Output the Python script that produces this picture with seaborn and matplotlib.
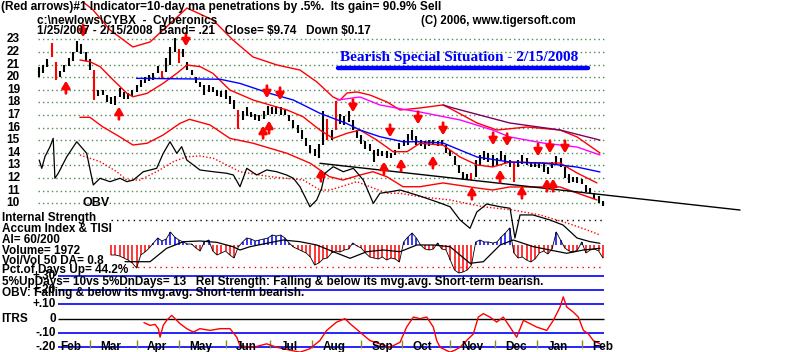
import numpy as np
import matplotlib
matplotlib.use("Agg")
import matplotlib.pyplot as plt
import seaborn as sns
from matplotlib.lines import Line2D

sns.set_style("white")
plt.rcParams['font.family'] = ['Liberation Sans', 'DejaVu Sans']

# ---- data (trading day index 0 = 1/25/2007) ----
bar_day = np.arange(0, 267, 2)
bar_hi = [20.8, 21.0, 21.4, 22.7, 21.2, 20.5, 21.0, 21.5, 22.0, 22.9,
          22.6, 22.0, 21.4, 20.6, 19.0, 19.0, 18.6, 18.4, 18.5, 19.1,
          18.8, 18.7, 19.0, 19.4, 19.8, 20.0, 20.2, 20.3, 20.9, 20.5,
          21.5, 22.4, 23.1, 22.2, 22.2, 21.2, 20.6, 20.0, 19.6, 19.4,
          19.4, 19.2, 19.0, 18.9, 19.0, 18.5, 18.2, 17.4, 17.3, 17.6,
          17.2, 17.1, 17.0, 17.3, 17.7, 17.6, 17.7, 17.6, 17.5, 17.0,
          16.6, 16.2, 15.8, 15.2, 14.6, 14.3, 14.7, 17.3, 16.7, 15.8,
          18.1, 17.1, 16.9, 17.3, 16.6, 15.8, 15.4, 14.9, 14.7, 14.2,
          14.3, 14.1, 14.1, 14.0, 14.2, 14.8, 15.0, 15.5, 15.8, 15.3,
          15.0, 14.9, 15.0, 15.0, 14.9, 15.0, 14.6, 14.2, 13.7, 13.0,
          12.5, 12.3, 12.4, 13.4, 13.8, 14.1, 14.0, 13.8, 13.6, 14.1,
          13.8, 13.4, 13.2, 13.4, 13.8, 13.6, 13.3, 13.3, 13.2, 13.2,
          12.9, 13.3, 13.7, 13.6, 12.9, 12.3, 12.1, 12.1, 11.9, 11.4,
          11.2, 10.8, 10.6, 10.2]
bar_lo = [20.0, 20.3, 20.8, 21.6, 19.8, 20.0, 20.4, 20.9, 21.3, 22.0,
          21.8, 21.3, 20.6, 18.2, 18.5, 18.6, 18.0, 17.9, 17.8, 18.4,
          18.3, 18.3, 18.5, 18.8, 19.2, 19.5, 19.7, 19.8, 20.3, 19.9,
          20.4, 21.0, 22.0, 21.1, 21.6, 20.6, 20.2, 19.5, 19.2, 18.6,
          18.8, 18.8, 18.5, 18.4, 18.3, 17.9, 17.5, 15.9, 16.6, 16.9,
          16.8, 16.6, 16.5, 16.7, 17.0, 17.1, 17.1, 17.0, 17.0, 16.5,
          16.0, 15.6, 15.1, 14.5, 14.0, 13.7, 13.6, 14.6, 15.0, 15.0,
          15.8, 16.3, 16.2, 16.4, 15.8, 15.2, 14.7, 14.3, 14.1, 13.3,
          13.7, 13.7, 13.6, 13.6, 13.8, 14.3, 14.5, 14.6, 15.0, 14.6,
          14.5, 14.3, 14.5, 14.6, 14.5, 14.6, 14.0, 13.7, 13.0, 12.4,
          11.9, 11.8, 11.8, 12.1, 13.0, 13.4, 13.3, 12.9, 13.0, 13.4,
          13.1, 12.9, 11.7, 12.9, 13.1, 13.0, 12.9, 12.9, 12.8, 12.5,
          12.3, 12.8, 13.0, 12.9, 12.0, 11.6, 11.7, 11.6, 11.5, 10.9,
          10.8, 10.3, 10.0, 9.74]
red_bar_days = [6, 8, 26, 58, 66, 94, 136, 140, 204, 224]

upper_day = [20.8, 25.5, 33.5, 44.3, 52.4, 58.5, 69.8, 82.1, 91.5, 100.9, 112.3,
             123.1, 131.1, 138.7, 142, 145.3, 150, 156.1, 164.2, 170.3, 179.7,
             190.6, 195.3, 206.6, 216, 230.2, 245.8, 253.8, 264.6]
upper_val = [25.96, 25.33, 23.74, 22.39, 22.79, 23.74, 25.48, 24.53, 22.94, 21.60,
             20.96, 20.56, 19.61, 18.42, 18.18, 18.74, 18.82, 18.58, 18.02, 17.39,
             17.55, 17.79, 17.39, 16.36, 15.80, 16.04, 15.80, 15.25, 13.98]
ma_day = [19.3, 24, 28.8, 35, 41.5, 44.3, 51, 58.5, 65, 69.8, 76, 82, 90, 101,
          117, 124.5, 132.5, 138.7, 145.3, 151.4, 159.4, 167, 173.6, 179.7,
          190.6, 198.6, 206.6, 214, 222, 237.7, 245.8, 253.8, 263.2]
ma_val = [21.36, 21.22, 20.83, 19.77, 18.71, 18.44, 18.71, 19.5, 20.30, 20.96,
          20.83, 20.30, 18.98, 18.18, 17.39, 16.86, 15.80, 15.14, 15.54, 15.80,
          15.0, 14.08, 14.08, 14.75, 14.6, 13.66, 13.03, 12.87, 13.26, 13.18,
          13.18, 12.39, 11.6]
lower_day = [19.3, 24, 30, 38, 44.3, 51, 58.5, 66.5, 71, 80.7, 90, 101, 117,
             128, 137, 143.4, 151.4, 157.5, 164, 171.7, 179.7, 190.6, 206.6,
             214, 222, 237.7, 245.8, 253.8, 263.2]
lower_val = [16.81, 16.81, 16.06, 15.27, 14.61, 14.75, 15.40, 16.33, 16.65, 16.2,
             15.14, 14.75, 13.95, 13.16, 12.10, 11.83, 12.23, 12.49, 12.10, 11.30,
             11.30, 11.6, 11.2, 11.04, 11.28, 11.28, 11.28, 10.8, 10.25]
blue_day = [46, 85.4, 94.8, 109, 120, 132.5, 145, 151.4, 160.8, 171.7, 179.7,
            190.6, 198.6, 206.6, 222, 237.7, 253.8, 264.6]
blue_val = [19.9, 19.83, 19.5, 18.7, 18.18, 17.13, 16.33, 15.80, 15.27, 14.87,
            14.87, 14.77, 14.21, 13.66, 13.26, 13.18, 12.86, 12.47]
mag_day = [140.6, 151.4, 160.8, 173.6, 179.7, 198.6, 214, 222, 237.7, 253.8, 264.6]
mag_val = [18.18, 18.42, 17.79, 17.39, 17.23, 16.6, 15.8, 15.25, 14.77, 14.45, 13.82]
purple_day = [190.6, 195.3, 222, 245.8, 264.6]
purple_val = [17.79, 17.55, 16.36, 15.8, 15.0]
trend_day = [132.5, 330.7]
trend_val = [13.16, 9.45]

obv_day = [0.1, 1.3, 2.8, 5.2, 6.7, 7.5, 9.1, 13.1, 17.8, 22.5, 25.6, 28.8, 33.5,
           38.2, 41.4, 44.5, 49.2, 55.5, 58.6, 61.8, 65, 67.3, 69.7, 75.9, 82.2,
           88.5, 91.7, 94.8, 98, 102.7, 107.4, 112.1, 116.8, 120, 123.1, 127.8,
           131, 133.3, 134.9, 138.8, 143.5, 148.3, 153, 157.7, 160.8, 165.6,
           170.3, 179.7, 189.2, 193.9, 198.6, 203.3, 206.5, 211.2, 217.5, 222.2,
           224.5, 226.9, 233, 241, 247.2, 253.8, 259.9, 264.6]
obv_val = [13.42, 12.76, 13.68, 14.48, 15.14, 11.97, 12.37, 13.68, 14.87, 13.95,
           11.44, 11.97, 11.70, 11.97, 11.70, 11.83, 12.49, 12.76, 13.95, 14.87,
           13.95, 14.48, 13.42, 12.63, 12.49, 12.37, 12.23, 11.30, 12.76, 12.23,
           12.63, 12.49, 12.23, 11.97, 11.30, 9.71, 10.25, 11.17, 12.37, 12.89,
           12.49, 12.76, 11.83, 9.98, 10.78, 10.90, 11.04, 10.56, 10.01, 9.71,
           8.66, 8.0, 9.29, 9.93, 9.71, 9.59, 7.23, 9.06, 9.06, 8.66, 8.26, 7.23,
           6.94, 6.81]
obv_ma_day = [19.3, 28.8, 36.7, 41.4, 47.6, 55.5, 63.4, 69.7, 75.9, 82.2, 90.1,
              94.8, 109, 124.7, 132.5, 137.3, 145.1, 149.9, 156.1, 164, 170.3,
              179.7, 193.9, 209.4, 223.6, 236.3, 249.1, 258.5, 264.6]
obv_ma_val = [13.82, 13.29, 12.49, 11.83, 11.83, 12.49, 13.29, 13.68, 13.74, 13.56,
              12.89, 12.49, 12.10, 11.83, 11.04, 11.04, 11.44, 11.70, 11.30, 10.78,
              10.78, 10.51, 10.25, 9.71, 9.45, 9.06, 8.42, 7.87, 7.47]

sell_day = [20.8, 69.3, 107.5, 113.7, 148.1, 165.6, 178.8, 190.6, 214.2, 220.8,
            235.4, 241, 248.1]
sell_val = [23.66, 22.94, 18.82, 18.66, 17.71, 15.72, 16.75, 15.88, 15.09, 15.01,
            14.21, 14.45, 14.45]
buy_day = [12.7, 37.7, 105.7, 108.5, 133, 162.7, 170.8, 185.8, 204.2, 217.5,
           227.8, 239.6, 242.5]
buy_val = [19.21, 17.15, 15.64, 16.04, 12.23, 12.79, 13.03, 13.27, 10.80, 12.15,
           10.88, 11.44, 11.44]

# accumulation index, every second day
ai_day = np.arange(34, 267, 2)
ai_val = [-10, -10, -11, -13, -15, -18, -23, -10, -7, -3,
          2, 7, 4, 6, 13, 8, 5, 3, 1, 1,
          -3, -6, 3, 5, -6, -10, -8, -6, -10, -13,
          -2, 3, 7, 6, 4, 5, 6, 7, 10, 9,
          10, 7, 2, -2, -4, -6, -8, -12, -20, -18,
          -14, -13, -8, -6, -7, -5, -4, 2, -1, -3,
          -8, -12, -13, -14, -12, -15, -13, -14, -17, 3,
          8, 12, 7, 0, -4, -5, -4, 2, -4, -5,
          -15, -25, -28, -27, -25, -20, 3, 5, 3, 3,
          2, 3, 8, 12, 17, -8, -13, -12, -15, -17,
          -14, -8, -6, -9, -4, 13, 5, -3, -6, -7,
          -5, 3, -8, -5, -4, -6, -13]
tisi_day = [40.6, 52.4, 60.2, 68.1, 75.9, 83.8, 91.5, 94.8, 99.5, 107.4, 115.2,
            123.1, 131, 138.8, 146.7, 154.6, 162.4, 170.3, 178.2, 186, 193.9,
            203.3, 209.6, 217.5, 223.7, 233.2, 241, 248.9, 256.8, 264.6]
tisi_val = [-16.7, -16.7, -3.3, 3.3, 4, 2.7, -1.7, -5, -1.7, 1.7, 5, 3.3, 0,
            -6.7, -13.3, -6.7, -5, -6.7, 0, 0, -1.7, -18.3, -16.7, 0, 5, -1.7,
            -5, -8.3, -5, -3.3]

itrs_day = [49.5, 52.4, 54.7, 56.3, 57.1, 58.6, 60.2, 62.6, 64.2, 66.5, 69.7,
            72.8, 75.9, 80.7, 85.4, 90.1, 93.3, 94.8, 101.1, 107.4, 112.1, 118.4,
            123.1, 127.8, 132.5, 135.7, 140.4, 144.3, 146.7, 151.4, 156.1, 160.8,
            165.6, 170.3, 173.4, 176.6, 179.7, 182.9, 186, 187.6, 189.2, 193.9,
            196.2, 198.6, 201.7, 204.9, 207.2, 209.6, 212.7, 215.9, 219, 222.2,
            225.3, 228.5, 231.6, 234.8, 239.5, 242.6, 245.8, 247.3, 248.9, 252,
            254.4, 256.8, 259.1, 261.5, 264.6]
itrs_val = [-0.028, -0.047, -0.040, -0.07, -0.13, -0.047, -0.012, 0.023, 0.0,
            -0.035, -0.07, -0.094, -0.07, -0.082, -0.07, -0.07, -0.13, -0.19,
            -0.2, -0.176, -0.2, -0.22, -0.234, -0.21, -0.153, -0.082, -0.024,
            0.0, -0.035, -0.094, -0.153, -0.176, -0.2, -0.165, -0.059, 0.011,
            0.0, 0.011, -0.059, -0.153, -0.2, -0.234, -0.22, -0.2, -0.153,
            -0.106, 0.011, 0.035, 0.011, -0.024, 0.011, -0.059, -0.13, -0.012,
            -0.035, -0.059, -0.082, -0.012, 0.082, 0.152, 0.082, 0.046, 0.011,
            -0.082, -0.106, -0.153, -0.176]

months = ['Feb', 'Mar', 'Apr', 'May', 'Jun', 'Jul', 'Aug', 'Sep', 'Oct', 'Nov',
          'Dec', 'Jan', 'Feb']
month_start = [5, 24, 46, 66, 88, 109, 129, 152, 171, 194, 215, 235, 256]
price_ticks = list(range(10, 24))
itrs_levels = [0.30, 0.20, 0.10, -0.10, -0.20]
itrs_labels = ['+.30', '+.20', '+.10', '-.10', '-.20']

# ---- layout: 800x352 px, x = 39 + 2.12 * day ----
W, H = 800, 352
XL = (-39 / 2.12, (W - 39) / 2.12)
RED, BLUE, GRID = '#ff0000', '#0000ff', '#4d8a4d'
BOLD = dict(fontweight='bold', color='black')

fig = plt.figure(figsize=(8, 3.52), dpi=100)


def axes_px(top, bottom):
    a = fig.add_axes([0, 1 - bottom / H, 1, (bottom - top) / H])
    a.set_xlim(*XL)
    a.set_facecolor('none')
    a.axis('off')
    return a


# price panel
ax = axes_px(0, 250)
ax.set_ylim(6.278, 26.119)
ax.hlines(price_ticks, -0.5, 266.5, colors=GRID, lw=1.0, linestyles=(0, (1, 2.2)))
for p in price_ticks:
    ax.text(-9.0, p, str(p), ha='right', va='center', fontsize=8.5, **BOLD)

bar_cols = [RED if d in red_bar_days else 'black' for d in bar_day]
ax.vlines(bar_day, bar_lo, bar_hi, colors=bar_cols, lw=1.5)

sns.lineplot(x=upper_day, y=upper_val, ax=ax, color=RED, lw=1.0)
sns.lineplot(x=ma_day, y=ma_val, ax=ax, color=RED, lw=1.0)
sns.lineplot(x=lower_day, y=lower_val, ax=ax, color=RED, lw=1.0)
sns.lineplot(x=blue_day, y=blue_val, ax=ax, color=BLUE, lw=1.0)
sns.lineplot(x=mag_day, y=mag_val, ax=ax, color='#ff00ff', lw=1.0)
sns.lineplot(x=purple_day, y=purple_val, ax=ax, color='#800060', lw=1.0)
sns.lineplot(x=trend_day, y=trend_val, ax=ax, color='black', lw=1.0)
sns.lineplot(x=obv_ma_day, y=obv_ma_val, ax=ax, color=RED, lw=1.0, linestyle=(0, (1, 1.5)))
sns.lineplot(x=obv_day, y=obv_val, ax=ax, color='black', lw=0.9)
ax.text(20.5, 10.0, 'OBV', ha='left', va='center', fontsize=9, **BOLD)

arrow = dict(arrowstyle='-|>,head_width=0.3,head_length=0.5', lw=2.0, color=RED,
             mutation_scale=8, shrinkA=0, shrinkB=0)
for d, v in zip(sell_day, sell_val):
    ax.annotate('', xy=(d, v - 0.5), xytext=(d, v + 0.5), arrowprops=arrow)
for d, v in zip(buy_day, buy_val):
    ax.annotate('', xy=(d, v + 0.5), xytext=(d, v - 0.5), arrowprops=arrow)

# accumulation index panel
ax2 = axes_px(205, 280)
ax2.set_ylim(-35, 40)
ax2.hlines(25, 34, 266, colors='black', lw=1.0, linestyles=(0, (1, 3)))
ax2.hlines(-22, 44, 266, colors=RED, lw=1.0, linestyles=(0, (1, 3)))
ai_cols = [BLUE if v > 0 else RED for v in ai_val]
ax2.vlines(ai_day, 0, ai_val, colors=ai_cols, lw=1.1)
sns.lineplot(x=ai_day, y=ai_val, ax=ax2, color='black', lw=0.6)
sns.lineplot(x=tisi_day, y=tisi_val, ax=ax2, color='black', lw=0.9)

# ITRS panel
ax3 = axes_px(270, 352)
ax3.set_ylim(-0.233, 0.340)
ax3.hlines(itrs_levels, 9, 266.5, colors=BLUE, lw=1.2)
ax3.hlines(0, 9, 266.5, colors='black', lw=1.0)
ax3.vlines(month_start[1:], -0.205, -0.15, colors='#8a8a20', lw=1.0)
sns.lineplot(x=itrs_day, y=itrs_val, ax=ax3, color=RED, lw=1.0)
for lv, lb in zip(itrs_levels, itrs_labels):
    ax3.text(8, lv, lb, ha='right', va='center', fontsize=8.5, **BOLD)
ax3.text(8, 0, '0', ha='right', va='center', fontsize=8.5, **BOLD)
ax3.text(-17.8, 0, 'ITRS', ha='left', va='center', fontsize=8.5, **BOLD)
for m, s in zip(months, month_start):
    ax3.text(s + 5, -0.2, m, ha='left', va='center', fontsize=8.5, **BOLD)

# ---- text ----
def ftext(x, y, s, **kw):
    fig.text(x / W, 1 - y / H, s, va='center', **kw)


ftext(1, 7, '(Red arrows)#1 Indicator=10-day ma penetrations by .5%.  Its gain= 90.9% Sell',
      fontsize=8.6, **BOLD)
ftext(37, 21, 'c:\\newlows\\CYBX  -  Cyberonics', fontsize=8.5, **BOLD)
ftext(37, 31, '1/25/2007 - 2/15/2008  Band= .21   Close= \\$9.74   Down \\$0.17',
      fontsize=8.5, **BOLD)
ftext(421, 21, '(C) 2006, www.tigersoft.com', fontsize=8.3, **BOLD)
ftext(340, 58, 'Bearish Special Situation - 2/15/2008', fontsize=11.0,
      family=['Liberation Serif', 'DejaVu Serif'], fontweight='bold', color=BLUE)
fig.add_artist(Line2D([338 / W, 588 / W], [1 - 68 / H] * 2, lw=3.2, color=BLUE,
                      solid_capstyle='round'))

left_lines = [('Internal Strength', 218.5), ('Accum Index & TISI', 229.5),
              ('AI= 60/200', 240), ('Volume= 1972', 251), ('Vol/Vol 50 DA= 0.8', 261),
              ('Pct.of Days Up= 44.2%', 270.5),
              ('5%UpDays= 10vs 5%DnDays= 13   Rel Strength: Falling & below its mvg.avg. '
               'Short-term bearish.', 282.5),
              ('OBV: Falling & below its mvg.avg. Short-term bearish.', 293)]
for s, y in left_lines:
    ftext(2, y, s, fontsize=8.5, **BOLD)

fig.savefig('out.png', dpi=100, facecolor='white')
